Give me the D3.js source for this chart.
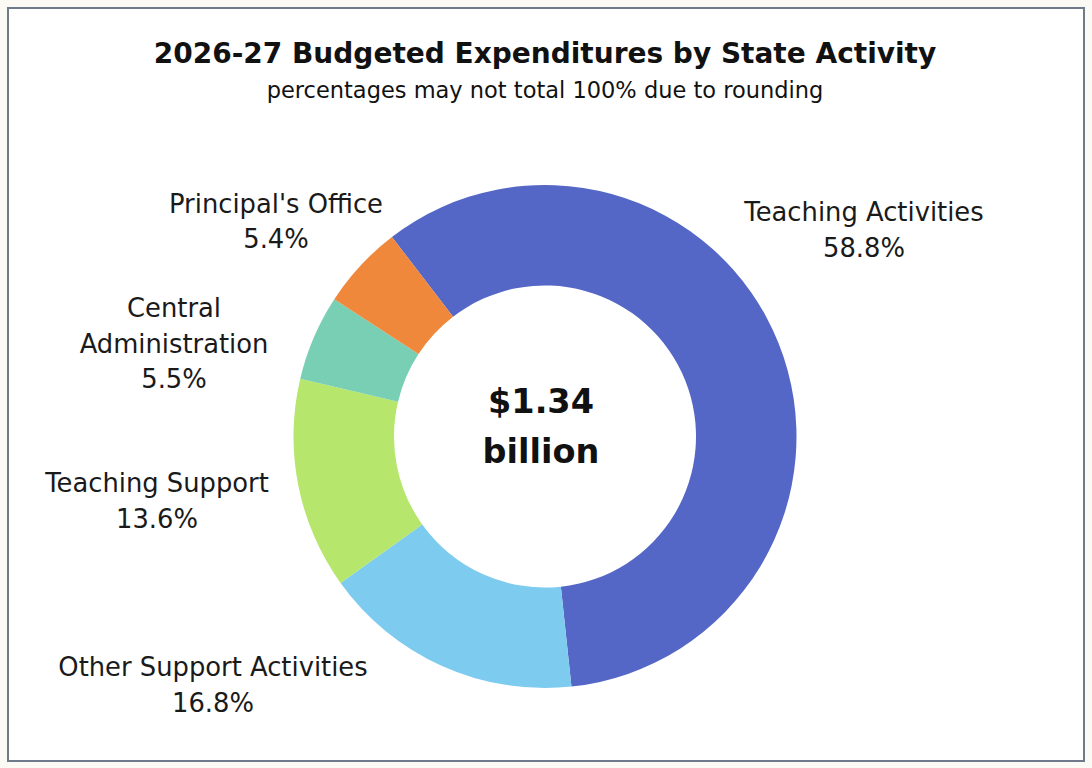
<!DOCTYPE html>
<html>
<head>
<meta charset="utf-8">
<script src="https://cdn.jsdelivr.net/npm/d3@7"></script>
<style>
  html, body { margin: 0; padding: 0; background: #fbfaf5; }
  #chart { width: 1092px; height: 768px; }
</style>
</head>
<body>
<div id="chart"></div>
<script>
// Data
const categories = ['Teaching Activities', 'Other Support Activities', 'Teaching Support', 'Central Administration', "Principal's Office"]
const shares = [58.8, 16.8, 13.6, 5.5, 5.4]
const labelLines = [
  ['Teaching Activities'],
  ['Other Support Activities'],
  ['Teaching Support'],
  ['Central', 'Administration'],
  ["Principal's Office"],
]
const totalLines = ['$1.34', 'billion']

function draw() {
  const dataset = categories.map((name, i) => ({ name, value: shares[i], lines: labelLines[i] }))

  // Dimensions
  let dimensions = {
    width: 1092,
    height: 768,
    cx: 545,
    cy: 436.5,
    outer: 251.5,
    inner: 151,
  }

  const colors = ['#5567c6', '#7ecbf0', '#b6e66b', '#79cfb4', '#f0883c']

  // where Excel dropped each data label, relative to the ring centre
  const labelSpots = [
    [319, -215.5],
    [-332, 239.5],
    [-388, 55.5],
    [-371, -119.5],
    [-269, -224],
  ]
  const lineStep = 35.7
  const font = '"DejaVu Sans", Inter, sans-serif'

  // Draw Image
  const svg = d3.select('#chart')
    .append('svg')
    .attr('width', dimensions.width)
    .attr('height', dimensions.height)

  svg.append('rect')
    .attr('x', 8)
    .attr('y', 8)
    .attr('width', dimensions.width - 16)
    .attr('height', dimensions.height - 15)
    .attr('fill', '#fff')
    .attr('stroke', '#6f7b8b')
    .attr('stroke-width', 2)

  // Titles
  svg.append('text')
    .attr('x', 545)
    .attr('y', 63)
    .attr('text-anchor', 'middle')
    .style('font-family', font)
    .style('font-weight', 700)
    .style('font-size', '28px')
    .attr('fill', '#111')
    .text('2026-27 Budgeted Expenditures by State Activity')

  svg.append('text')
    .attr('x', 545)
    .attr('y', 98)
    .attr('text-anchor', 'middle')
    .style('font-family', font)
    .style('font-size', '22.5px')
    .attr('fill', '#111')
    .text('percentages may not total 100% due to rounding')

  // Pie
  const pie = d3.pie()
    .value(d => d.value)
    .sort(null)
    .startAngle(-37.5 * Math.PI / 180)
    .endAngle((360 - 37.5) * Math.PI / 180)

  const arc = d3.arc()
    .innerRadius(dimensions.inner)
    .outerRadius(dimensions.outer)

  const ctr = svg.append('g')
    .attr('transform', `translate(${dimensions.cx}, ${dimensions.cy})`)

  const slices = pie(dataset)

  ctr.append('g')
    .classed('slices', true)
    .selectAll('path')
    .data(slices)
    .join('path')
    .attr('d', arc)
    .attr('fill', (d, i) => colors[i])

  // Labels
  const labels = ctr.append('g')
    .classed('labels', true)
    .selectAll('text')
    .data(slices)
    .join('text')
    .attr('text-anchor', 'middle')
    .attr('transform', (d, i) => `translate(${labelSpots[i][0]}, ${labelSpots[i][1]})`)
    .style('font-family', font)
    .style('font-size', '25.8px')
    .attr('fill', '#1a1a1a')

  labels.selectAll('tspan')
    .data(d => [...d.data.lines, d3.format('.1f')(d.data.value) + '%'])
    .join('tspan')
    .attr('x', 0)
    .attr('y', (d, i) => i * lineStep)
    .text(d => d)

  // Total in the hole
  ctr.append('text')
    .attr('text-anchor', 'middle')
    .style('font-family', font)
    .style('font-weight', 700)
    .style('font-size', '33.5px')
    .attr('fill', '#111')
    .selectAll('tspan')
    .data(totalLines)
    .join('tspan')
    .attr('x', -4)
    .attr('y', (d, i) => -23.5 + i * 50)
    .text(d => d)
}

draw()
</script>
</body>
</html>
